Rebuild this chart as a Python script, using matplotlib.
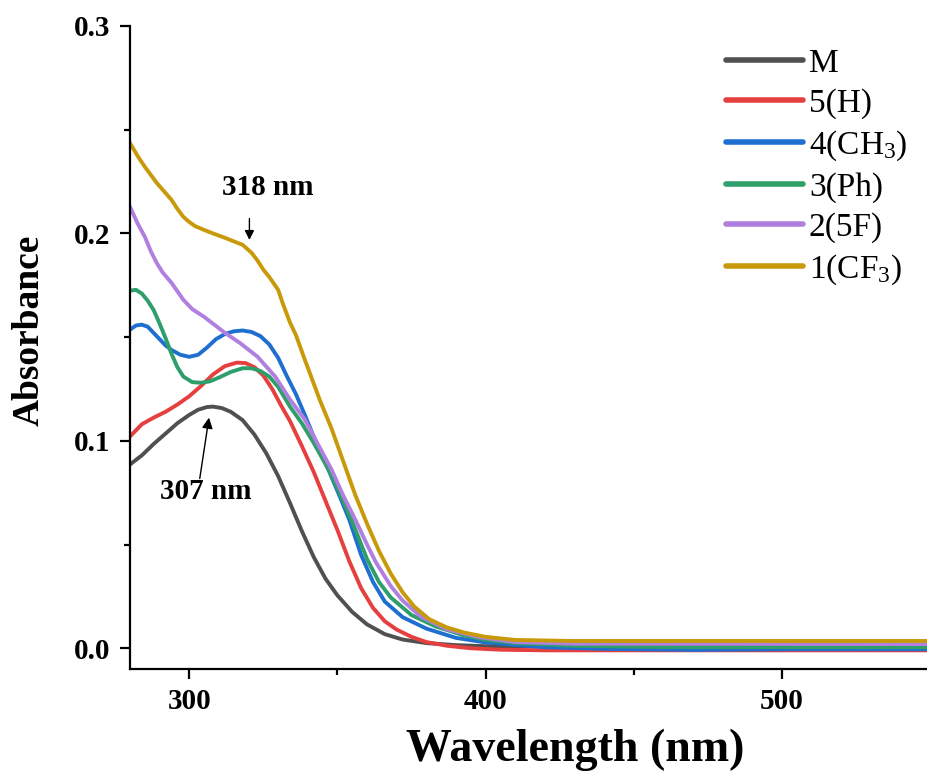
import numpy as np
import matplotlib.pyplot as plt
from matplotlib.ticker import MultipleLocator

plt.rcParams['font.family'] = 'Liberation Serif'
plt.rcParams['mathtext.fontset'] = 'custom'
plt.rcParams['mathtext.rm'] = 'Liberation Serif'
plt.rcParams['mathtext.it'] = 'Liberation Serif:italic'
plt.rcParams['mathtext.bf'] = 'Liberation Serif:bold'

# UV-vis spectra (wavelength nm, absorbance)
wl_m = [280, 284, 288, 292, 296, 300, 303, 306, 308, 311, 314, 318, 322, 326, 330, 334,
        338, 342, 346, 350, 355, 360, 366, 372, 380, 390, 400, 450, 500, 550]
abs_m = [0.0886, 0.0930, 0.0985, 0.1035, 0.1085, 0.1125, 0.1150, 0.1163, 0.1165, 0.1158,
         0.1140, 0.1100, 0.1030, 0.0940, 0.0830, 0.0700, 0.0565, 0.0440, 0.0335, 0.0255,
         0.0175, 0.0115, 0.0068, 0.0042, 0.0025, 0.0015, 0.0010, 0.0005, 0.0005, 0.0005]

wl_h = [280, 284, 288, 292, 296, 300, 304, 308, 312, 316, 319, 322, 325, 328, 331, 334,
        338, 342, 346, 350, 354, 358, 362, 366, 370, 375, 380, 387, 395, 405, 420, 550]
abs_h = [0.1021, 0.1080, 0.1112, 0.1140, 0.1175, 0.1215, 0.1265, 0.1320, 0.1360, 0.1377,
         0.1375, 0.1355, 0.1315, 0.1250, 0.1170, 0.1095, 0.0975, 0.0850, 0.0710, 0.0570,
         0.0420, 0.0290, 0.0195, 0.0130, 0.0090, 0.0055, 0.0030, 0.0012, 0.0000, -0.0007,
         -0.0010, -0.0010]

wl_ch3 = [280, 282, 284, 286, 288, 290, 292, 294, 297, 300, 303, 306, 309, 312, 315, 318,
          321, 324, 327, 330, 333, 336, 339, 343, 347, 351, 354, 358, 362, 366, 372, 380,
          390, 400, 420, 440, 470, 500, 550]
abs_ch3 = [0.1536, 0.1556, 0.1560, 0.1550, 0.1520, 0.1490, 0.1460, 0.1438, 0.1415, 0.1405,
           0.1415, 0.1450, 0.1490, 0.1515, 0.1528, 0.1532, 0.1525, 0.1505, 0.1465, 0.1400,
           0.1310, 0.1225, 0.1125, 0.0985, 0.0860, 0.0725, 0.0620, 0.0450, 0.0320, 0.0225,
           0.0150, 0.0095, 0.0050, 0.0028, 0.0005, -0.0003, -0.0008, -0.0005, -0.0005]

wl_ph = [280, 282, 284, 286, 288, 290, 292, 294, 296, 298, 301, 304, 307, 310, 314, 318,
         321, 324, 327, 330, 334, 338, 342, 347, 351, 355, 360, 364, 368, 375, 383, 392,
         400, 410, 430, 460, 550]
abs_ph = [0.1724, 0.1728, 0.1710, 0.1675, 0.1630, 0.1565, 0.1495, 0.1420, 0.1355, 0.1310,
          0.1283, 0.1280, 0.1287, 0.1305, 0.1332, 0.1350, 0.1350, 0.1337, 0.1310, 0.1260,
          0.1165, 0.1085, 0.0990, 0.0862, 0.0740, 0.0610, 0.0430, 0.0320, 0.0245, 0.0160,
          0.0106, 0.0065, 0.0040, 0.0025, 0.0012, 0.0006, 0.0005]

wl_5f = [280, 282.5, 285, 287, 289, 291, 294, 298, 301, 305, 312, 317, 323, 329, 334, 339,
         343, 348, 352, 356, 360, 363, 368, 372, 378, 387, 398, 410, 430, 550]
abs_5f = [0.2128, 0.2050, 0.1984, 0.1915, 0.1858, 0.1812, 0.1762, 0.1680, 0.1635, 0.1598,
          0.1521, 0.1473, 0.1406, 0.1310, 0.1199, 0.1103, 0.0995, 0.0862, 0.0735, 0.0621,
          0.0500, 0.0414, 0.0300, 0.0230, 0.0154, 0.0091, 0.0053, 0.0030, 0.0022, 0.0020]

wl_cf3 = [280, 282.5, 285, 289, 294, 296, 298, 300, 302, 305, 308, 312, 318, 321, 323, 325,
          327, 330, 331.5, 334, 336, 339, 341, 344, 348, 352, 356, 360, 364, 368, 372, 376,
          381, 387, 393, 400, 410, 430, 550]
abs_cf3 = [0.2436, 0.2375, 0.2321, 0.2244, 0.2162, 0.2118, 0.2080, 0.2055, 0.2035, 0.2017,
           0.2000, 0.1979, 0.1945, 0.1907, 0.1870, 0.1825, 0.1790, 0.1728, 0.1665, 0.1570,
           0.1510, 0.1391, 0.1315, 0.1199, 0.1060, 0.0900, 0.0740, 0.0600, 0.0470, 0.0360,
           0.0270, 0.0200, 0.0140, 0.0100, 0.0075, 0.0055, 0.0040, 0.0035, 0.0035]

labels = ['M', '5(H)', '4(CH$_3$)', '3(Ph)', '2(5F)', '1(CF$_3$)']
colors = ['#505050', '#e5403f', '#1e6fcf', '#2e9e6b', '#b07fe0', '#c89a0a']

fig = plt.figure(figsize=(9.28, 7.74), dpi=100)
ax = fig.add_axes([130/928, 105/774, 800/928, 643/774])

series = [(wl_m, abs_m), (wl_h, abs_h), (wl_ch3, abs_ch3),
          (wl_ph, abs_ph), (wl_5f, abs_5f), (wl_cf3, abs_cf3)]
for (x, y), lab, c in zip(series, labels, colors):
    ax.plot(x, y, color=c, lw=2.8, label=lab, solid_capstyle='round',
            solid_joinstyle='round')

ax.set_xlim(280, 550)
ax.set_ylim(-0.01, 0.3)
ax.xaxis.set_major_locator(MultipleLocator(100))
ax.xaxis.set_minor_locator(MultipleLocator(50))
ax.yaxis.set_major_locator(MultipleLocator(0.1))
ax.yaxis.set_minor_locator(MultipleLocator(0.05))
ax.yaxis.set_major_formatter(plt.FuncFormatter(lambda v, p: f'{v:.1f}'))

for s in ['top', 'right']:
    ax.spines[s].set_visible(False)
for s in ['left', 'bottom']:
    ax.spines[s].set_linewidth(1.6)

ax.tick_params(which='major', direction='out', length=7, width=1.6, labelsize=21, pad=7)
ax.tick_params(which='minor', direction='out', length=4, width=1.6)
for t in ax.get_xticklabels() + ax.get_yticklabels():
    t.set_fontweight('bold')

fig.text(575/928, 1 - 750/774, 'Wavelength (nm)', ha='center', va='center',
         fontsize=33, fontweight='bold')
fig.text(29/928, 1 - 330/774, 'Absorbance', ha='center', va='center',
         fontsize=27, fontweight='bold', rotation=90)

# peak annotations
ax.text(326.4, 0.222, '318 nm', ha='center', va='center', fontsize=21, fontweight='bold')
ax.annotate('', xy=(320.3, 0.1955), xytext=(320.3, 0.2085),
            arrowprops=dict(arrowstyle='-|>', color='k', lw=1, mutation_scale=14))
ax.text(305.4, 0.0756, '307 nm', ha='center', va='center', fontsize=21, fontweight='bold')
ax.annotate('', xy=(306.8, 0.1125), xytext=(303.4, 0.0805),
            arrowprops=dict(arrowstyle='-|>', color='k', lw=1, mutation_scale=16))

leg = ax.legend(loc='upper left', bbox_to_anchor=(713/928, 1 - 35/774),
                bbox_transform=fig.transFigure, frameon=False, fontsize=24,
                handlelength=2.3, handletextpad=0.18, labelspacing=0.28,
                borderaxespad=0)
for line in leg.get_lines():
    line.set_linewidth(4)

fig.savefig('out.png', dpi=100)
